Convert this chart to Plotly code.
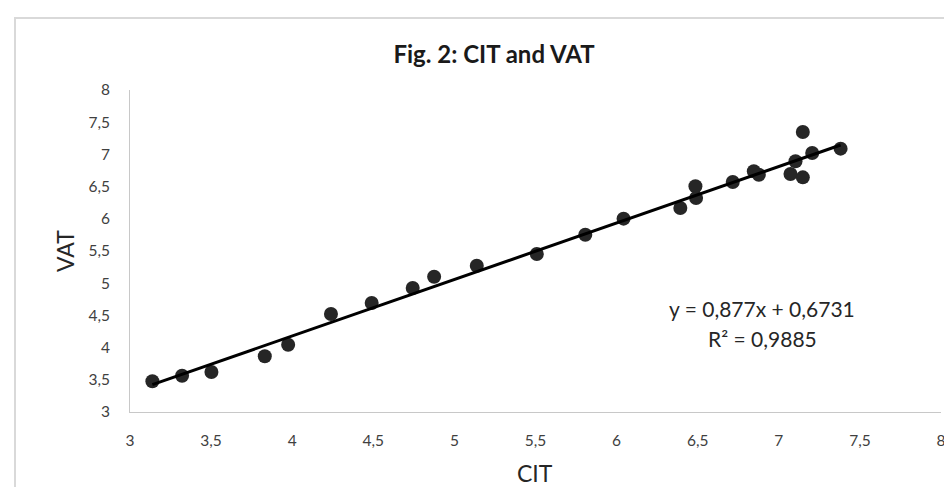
import plotly.graph_objects as go

# ---- data ----
cit = [3.138, 3.321, 3.502, 3.831, 3.975, 4.239, 4.490, 4.743, 4.875, 5.138,
       5.508, 5.807, 6.043, 6.393, 6.486, 6.490, 6.716, 6.846, 6.877, 7.072,
       7.103, 7.148, 7.148, 7.206, 7.381]
vat = [3.477, 3.564, 3.621, 3.865, 4.045, 4.522, 4.693, 4.925, 5.101, 5.272,
       5.453, 5.753, 6.002, 6.168, 6.505, 6.323, 6.571, 6.738, 6.685, 6.696,
       6.893, 7.348, 6.644, 7.022, 7.089]
slope = 0.877
intercept = 0.6731
eq_text = "y = 0,877x + 0,6731"
r2_text = "R² = 0,9885"
tick_vals = [3, 3.5, 4, 4.5, 5, 5.5, 6, 6.5, 7, 7.5, 8]
tick_text = ["3", "3,5", "4", "4,5", "5", "5,5", "6", "6,5", "7", "7,5", "8"]
title_text = "<b>Fig. 2: CIT and VAT</b>"
x_title = "CIT"
y_title = "VAT"

W, H = 952, 487
L, R, T, B = 122, 933, 82, 404
FONT = "Lato"


def px_x(p):
    return (p - L) / (R - L)


def px_y(p):
    return (B - p) / (B - T)


trend_x = [min(cit), max(cit)]
trend_y = [slope * v + intercept for v in trend_x]

fig = go.Figure()
fig.add_trace(go.Scatter(
    x=cit, y=vat, mode="markers",
    marker=dict(size=14, color="#262626", line=dict(width=0)),
    showlegend=False, hoverinfo="x+y"))
fig.add_trace(go.Scatter(
    x=trend_x, y=trend_y, mode="lines",
    line=dict(color="#000000", width=3),
    showlegend=False, hoverinfo="skip"))

axis_common = dict(
    showgrid=False, zeroline=False, showline=True, linecolor="#c8c8c8",
    linewidth=1, ticks="", tickvals=tick_vals, ticktext=tick_text,
    tickfont=dict(family=FONT, size=15.5, color="#404040"),
    fixedrange=True,
)
fig.update_xaxes(range=[3, 8], ticklabelstandoff=14, **axis_common)
fig.update_yaxes(range=[3, 8], ticklabelstandoff=16, **axis_common)

fig.update_layout(
    width=W, height=H,
    margin=dict(l=L, r=W - R, t=T, b=H - B, autoexpand=False),
    paper_bgcolor="white", plot_bgcolor="white",
    title=dict(text=title_text, x=486 / W,
               xanchor="center", y=1 - 47 / H, yanchor="middle",
               yref="container", xref="container",
               font=dict(family=FONT, size=24, color="#1a1a1a")),
    annotations=[
        dict(text=x_title, x=px_x(527), y=px_y(465), xref="paper", yref="paper",
             showarrow=False, xanchor="center", yanchor="middle",
             font=dict(family=FONT, size=23, color="#262626")),
        dict(text=y_title, x=px_x(57), y=px_y(243), xref="paper", yref="paper",
             showarrow=False, xanchor="center", yanchor="middle", textangle=-90,
             font=dict(family=FONT, size=23, color="#262626")),
        dict(text=eq_text, x=px_x(754), y=px_y(300), xref="paper", yref="paper",
             showarrow=False, xanchor="center", yanchor="middle",
             font=dict(family=FONT, size=21, color="#262626")),
        dict(text=r2_text, x=px_x(754), y=px_y(330), xref="paper", yref="paper",
             showarrow=False, xanchor="center", yanchor="middle",
             font=dict(family=FONT, size=21, color="#262626")),
    ],
    shapes=[dict(type="rect", xref="paper", yref="paper",
                 x0=px_x(7), x1=px_x(1000), y0=px_y(10), y1=px_y(520),
                 line=dict(color="#d9d9d9", width=2), fillcolor="rgba(0,0,0,0)",
                 layer="below")],
)

fig.write_html("out.html")
